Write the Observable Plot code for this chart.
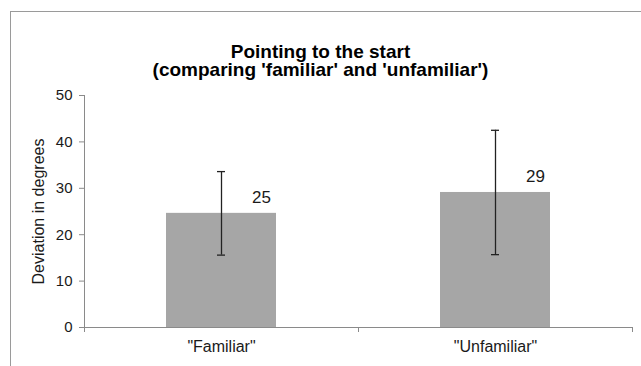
<!DOCTYPE html>
<html>
<head>
<meta charset="utf-8">
<script src="https://cdn.jsdelivr.net/npm/d3@7"></script>
<script src="https://cdn.jsdelivr.net/npm/@observablehq/plot@0.6"></script>
<style>
  html, body { margin: 0; padding: 0; background: #fff; overflow: hidden; }
  #wrap { position: relative; width: 641px; height: 366px; }
  #border { position: absolute; left: 10px; top: 11px; width: 700px; height: 400px; border: 1px solid #9a9a9a; box-sizing: border-box; pointer-events: none; }
  #chart { position: absolute; left: 0; top: 0; }
</style>
</head>
<body>
<div id="wrap"><div id="chart"></div><div id="border"></div></div>
<script>
// ---- data ----
const categories = ["\"Familiar\"", "\"Unfamiliar\""];
const means = [24.6, 29.1];
const errors = [9.0, 13.4];
const valueLabels = ["25", "29"];
const yTicks = [0, 10, 20, 30, 40, 50];
const title = "Pointing to the start\n(comparing 'familiar' and 'unfamiliar')";
const yLabel = "Deviation in degrees";

const data = categories.map((c, i) => ({
  cat: c, mean: means[i], lo: means[i] - errors[i], hi: means[i] + errors[i], label: valueLabels[i]
}));

// ---- layout ----
const W = 641, H = 366, mL = 84, mR = 9, mT = 95, mB = 39;
const halfStep = (W - mL - mR) / categories.length / 2;
const font = "'Liberation Sans', Arial, Helvetica, sans-serif";
const axisGrey = "#8a8a8a";
const ink = "#1a1a1a";

const chart = Plot.plot({
  width: W, height: H,
  marginLeft: mL, marginRight: mR, marginTop: mT, marginBottom: mB,
  style: { fontFamily: font, fontSize: "15px", color: ink, background: "transparent" },
  x: { domain: categories, paddingInner: 0.6, paddingOuter: 0.3, align: 0.5 },
  y: { domain: [0, 50] },
  marks: [
    Plot.barY(data, { x: "cat", y: "mean", fill: "#a6a6a6" }),
    // x axis line
    Plot.ruleY([0], { stroke: axisGrey, strokeWidth: 1 }),
    // y axis line (left edge of first band), extended slightly below
    Plot.ruleX(categories.slice(0, 1), { x: d => d, dx: -halfStep, y1: 50, y2: 0, insetBottom: -5, stroke: axisGrey }),
    // category boundary ticks
    Plot.ruleX(categories, { x: d => d, dx: halfStep, y1: 0, y2: 0, insetBottom: -5, stroke: axisGrey }),
    Plot.axisY({ ticks: yTicks, tickSize: 5, tickPadding: 7, stroke: axisGrey, fill: ink, fontSize: 15, label: null }),
    Plot.axisX({ tickSize: 0, tickPadding: 13, fill: ink, fontSize: 16, label: null }),
    // error bars
    Plot.ruleX(data, { x: "cat", y1: "lo", y2: "hi", stroke: "#222", strokeWidth: 1.3 }),
    Plot.tickY(data, { x: "cat", y: "lo", stroke: "#222", strokeWidth: 1.3, insetLeft: 51, insetRight: 51 }),
    Plot.tickY(data, { x: "cat", y: "hi", stroke: "#222", strokeWidth: 1.3, insetLeft: 51, insetRight: 51 }),
    // value labels
    Plot.text(data, { x: "cat", y: "mean", text: "label", dx: 40, dy: -10, lineAnchor: "bottom", fontSize: 17, fill: ink }),
    // y axis label
    Plot.text([yLabel], { frameAnchor: "left", dx: -46, rotate: -90, textAnchor: "middle", fontSize: 16, fill: ink }),
    // title
    Plot.text([title], { frameAnchor: "top-left", dx: 320 - mL, dy: 43.5 - mT, lineAnchor: "top", textAnchor: "middle", lineHeight: 1, fontSize: 19, fontWeight: "bold", fill: "#000" })
  ]
});
document.getElementById("chart").appendChild(chart);
</script>
</body>
</html>
